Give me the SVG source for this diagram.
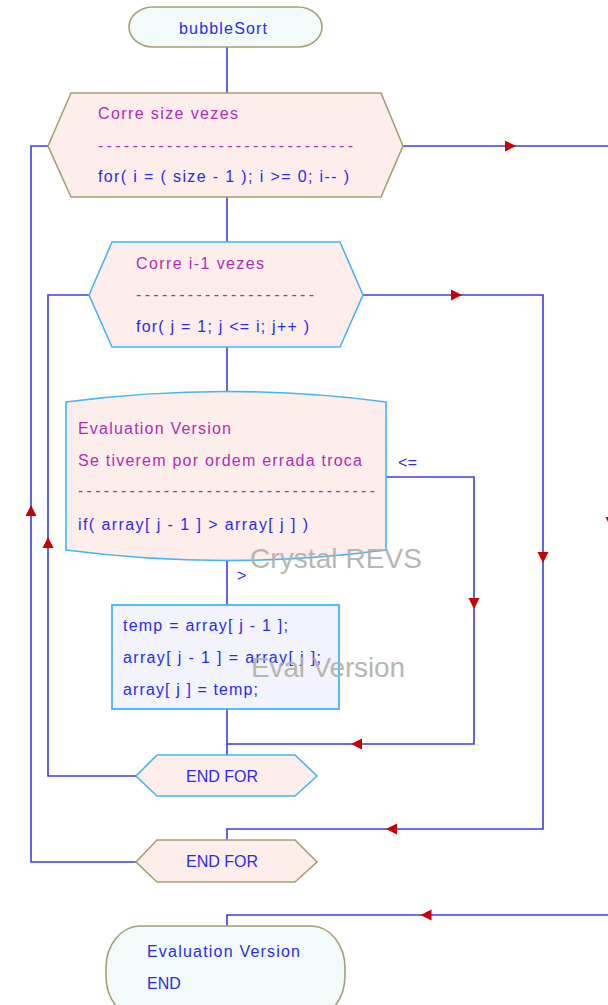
<svg xmlns="http://www.w3.org/2000/svg" xmlns:xlink="http://www.w3.org/1999/xlink" width="608" height="1005" viewBox="0 0 608 1005">
<defs>
<style>
.bg{fill:#ffffff}
.term{fill:#f2fbf9;stroke:#a4a074;stroke-width:1.6}
.hexo{fill:#fdeeeb;stroke:#a4a074;stroke-width:1.6}
.hexb{fill:#fdeeeb;stroke:#44b4f4;stroke-width:1.6}
.proc{fill:#f3f3fd;stroke:#44b4f4;stroke-width:1.8}
.t{font-family:"Liberation Sans",Arial,sans-serif;font-size:16px;fill:#2a2aee}
.m{font-family:"Liberation Sans",Arial,sans-serif;font-size:16px;fill:#b02cb4}
.wm{font-family:"Liberation Sans",Arial,sans-serif;font-size:28px;fill:#b0b0b0;opacity:0.92}
.c{fill:none;stroke:#3c3cdc;stroke-width:1.6}
.ah{fill:#c80000}
</style>
<polygon id="arr" points="-11,-5.5 0,0 -11,5.5"/>
</defs>
<rect class="bg" x="0" y="0" width="608" height="1005"/>

<g id="connectors">
<path class="c" d="M227,47 V93"/>
<path class="c" d="M227,197 V242"/>
<path class="c" d="M227,347 V391"/>
<path class="c" d="M227,561 V605"/>
<path class="c" d="M227,709 V755"/>
<path class="c" d="M386,477 H474 V744 H227"/>
<path class="c" d="M136,776 H48 V295 H89"/>
<path class="c" d="M363,295 H543 V829 H227 V840"/>
<path class="c" d="M136,862 H31 V146 H48"/>
<path class="c" d="M403,146 H612"/>
<path class="c" d="M612,915 H227 V926"/>
<g class="ah">
<use xlink:href="#arr" transform="translate(516,146)"/>
<use xlink:href="#arr" transform="translate(462,295)"/>
<use xlink:href="#arr" transform="translate(474,609) rotate(90)"/>
<use xlink:href="#arr" transform="translate(351,744) rotate(180)"/>
<use xlink:href="#arr" transform="translate(386,829) rotate(180)"/>
<use xlink:href="#arr" transform="translate(420.5,915) rotate(180)"/>
<use xlink:href="#arr" transform="translate(31,505) rotate(-90)"/>
<use xlink:href="#arr" transform="translate(48,537) rotate(-90)"/>
<use xlink:href="#arr" transform="translate(543,563) rotate(90)"/>
<use xlink:href="#arr" transform="translate(611,528) rotate(90)"/>
</g>
<text class="t" x="398" y="468" textLength="19" lengthAdjust="spacing">&lt;=</text>
<text class="t" x="237" y="581">&gt;</text>
</g>

<g id="start">
<rect class="term" x="129" y="7" width="193" height="40" rx="24" ry="20"/>
<text class="t" x="179" y="34" textLength="88" lengthAdjust="spacing">bubbleSort</text>
</g>

<g id="for-outer">
<polygon class="hexo" points="48,146 71,93 381,93 403,146 381,197 71,197"/>
<text class="m" x="98" y="119" textLength="140" lengthAdjust="spacing">Corre size vezes</text>
<text class="m" x="98" y="150.5" textLength="255" lengthAdjust="spacing">------------------------------</text>
<text class="t" x="98" y="182" textLength="251" lengthAdjust="spacing">for( i = ( size - 1 ); i &gt;= 0; i-- )</text>
</g>

<g id="for-inner">
<polygon class="hexb" points="89,295 112,242 340,242 363,295 340,347 112,347"/>
<text class="m" x="136" y="268.5" textLength="128" lengthAdjust="spacing">Corre i-1 vezes</text>
<text class="m" x="136" y="299.5" textLength="178" lengthAdjust="spacing">---------------------</text>
<text class="t" x="136" y="332" textLength="173" lengthAdjust="spacing">for( j = 1; j &lt;= i; j++ )</text>
</g>

<g id="decision">
<path class="hexb" d="M66,402 Q227,381 386,402 L386,550 Q227,571 66,550 Z"/>
<text class="m" x="78" y="433.5" textLength="153" lengthAdjust="spacing">Evaluation Version</text>
<text class="m" x="78" y="465.5" textLength="284" lengthAdjust="spacing">Se tiverem por ordem errada troca</text>
<text class="m" x="78" y="496" textLength="297" lengthAdjust="spacing">-----------------------------------</text>
<text class="t" x="78" y="530" textLength="230" lengthAdjust="spacing">if( array[ j - 1 ] &gt; array[ j ] )</text>
</g>

<g id="swap">
<rect class="proc" x="112" y="605" width="227" height="104"/>
<text class="t" x="123" y="631" textLength="165" lengthAdjust="spacing">temp = array[ j - 1 ];</text>
<text class="t" x="123" y="663" textLength="198" lengthAdjust="spacing">array[ j - 1 ] = array[ j ];</text>
<text class="t" x="123" y="695" textLength="135" lengthAdjust="spacing">array[ j ] = temp;</text>
</g>

<g id="endfor-inner">
<polygon class="hexb" points="136,776 157,755 295,755 317,776 295,796 157,796"/>
<text class="t" x="186" y="781.5">END FOR</text>
</g>

<g id="endfor-outer">
<polygon class="hexo" points="136,862 157,840 295,840 317,862 295,882 157,882"/>
<text class="t" x="186" y="866.5">END FOR</text>
</g>

<g id="end">
<rect class="term" x="106" y="926" width="239" height="92" rx="34" ry="42"/>
<text class="t" x="147" y="957" textLength="153" lengthAdjust="spacing">Evaluation Version</text>
<text class="t" x="147" y="989">END</text>
</g>

<g id="watermarks">
<text class="wm" x="250" y="568" textLength="172" lengthAdjust="spacing">Crystal REVS</text>
<text class="wm" x="251" y="677" textLength="154" lengthAdjust="spacing">Eval Version</text>
</g>
</svg>
